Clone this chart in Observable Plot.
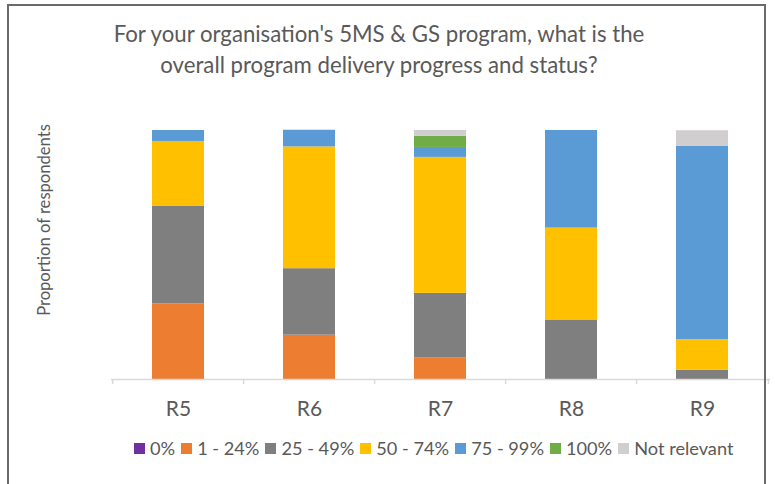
<!DOCTYPE html>
<html>
<head>
<meta charset="utf-8">
<script src="https://cdn.jsdelivr.net/npm/d3@7"></script>
<script src="https://cdn.jsdelivr.net/npm/@observablehq/plot@0.6"></script>
<style>
  html, body { margin: 0; padding: 0; background: #fff; }
  #wrap { position: relative; width: 775px; height: 484px; overflow: hidden; font-family: Lato, "Open Sans", sans-serif; color: #595959; }
  #frame { position: absolute; left: 7px; top: 4px; width: 759px; height: 500px; border: 2px solid #6a6a6a; box-sizing: border-box; pointer-events: none; }
  #title { position: absolute; left: 0; width: 758px; top: 18px; text-align: center; font-size: 22.2px; line-height: 31px; color: #595959; }
  #ylabel { position: absolute; left: 44px; top: 220px; transform: translate(-50%, -50%) rotate(-90deg); white-space: nowrap; font-size: 16.6px; color: #595959; }
  #legend { position: absolute; top: 437px; left: 134px; display: flex; align-items: center; font-size: 18.2px; color: #595959; white-space: nowrap; }
  #legend .item { display: flex; align-items: center; margin-right: 6px; }
  #legend .sw { width: 11px; height: 11px; margin-right: 5px; }
  #chart { position: absolute; left: 0; top: 0; }
</style>
</head>
<body>
<div id="wrap">
  <div id="chart"></div>
  <div id="title">For your organisation's 5MS &amp; GS program, what is the<br>overall program delivery progress and status?</div>
  <div id="ylabel">Proportion of respondents</div>
  <div id="legend"></div>
  <div id="frame"></div>
</div>
<script>
// ---- data ----
const rounds = ["R5", "R6", "R7", "R8", "R9"];
const categories = ["0%", "1 - 24%", "25 - 49%", "50 - 74%", "75 - 99%", "100%", "Not relevant"];
const colors = ["#7030A0", "#ED7D31", "#7F7F7F", "#FFC000", "#5B9BD5", "#70AD47", "#D0CECE"];
const pct0 = [0, 0, 0, 0, 0];
const pct1to24 = [30.4, 17.8, 8.6, 0, 0];
const pct25to49 = [39.1, 26.7, 26.0, 23.7, 3.7];
const pct50to74 = [26.1, 48.9, 54.6, 37.1, 12.3];
const pct75to99 = [4.4, 6.7, 4.0, 39.2, 77.6];
const pct100 = [0, 0, 4.5, 0, 0];
const notRelevant = [0, 0, 2.3, 0, 6.3];

const series = [pct0, pct1to24, pct25to49, pct50to74, pct75to99, pct100, notRelevant];
const rows = [];
series.forEach((vals, ci) => {
  vals.forEach((v, ri) => rows.push({round: rounds[ri], category: categories[ci], value: v}));
});

const W = 775, H = 484;
const mLeft = 111, mRight = 5, mTop = 130, mBottom = 105;
const step = (W - mLeft - mRight) / rounds.length;

const chart = Plot.plot({
  width: W,
  height: H,
  marginTop: mTop,
  marginBottom: mBottom,
  marginLeft: mLeft,
  marginRight: mRight,
  style: {background: "transparent", fontFamily: "Lato, 'Open Sans', sans-serif"},
  x: {domain: rounds, paddingInner: 0.6, paddingOuter: 0.3, axis: null},
  y: {domain: [0, 100], axis: null},
  color: {domain: categories, range: colors},
  marks: [
    Plot.barY(rows, {x: "round", y: "value", fill: "category", order: categories}),
    Plot.ruleY([0], {stroke: "#d9d9d9", strokeWidth: 1.5}),
    Plot.ruleX(rounds, {x: d => d, y1: 0, y2: -2, dx: -step / 2, stroke: "#d9d9d9", strokeWidth: 1.5}),
    Plot.ruleX(rounds.slice(-1), {x: d => d, y1: 0, y2: -2, dx: step / 2, stroke: "#d9d9d9", strokeWidth: 1.5}),
    Plot.axisX({tickSize: 0, tickPadding: 22, fontSize: 21, fill: "#595959", label: null})
  ]
});
document.getElementById("chart").appendChild(chart);

// legend
const legend = document.getElementById("legend");
categories.forEach((c, i) => {
  const item = document.createElement("div");
  item.className = "item";
  const sw = document.createElement("div");
  sw.className = "sw";
  sw.style.background = colors[i];
  const t = document.createElement("span");
  t.textContent = c;
  item.appendChild(sw);
  item.appendChild(t);
  legend.appendChild(item);
});
</script>
</body>
</html>
